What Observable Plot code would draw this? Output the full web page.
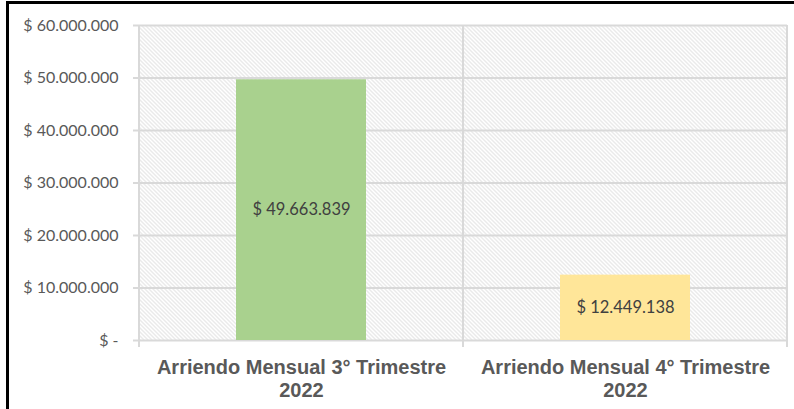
<!DOCTYPE html>
<html><head><meta charset="utf-8">
<script src="https://cdn.jsdelivr.net/npm/d3@7"></script>
<script src="https://cdn.jsdelivr.net/npm/@observablehq/plot@0.6"></script>
<style>
body{margin:0;background:#fff;}
#wrap{position:relative;width:794px;height:409px;overflow:hidden;}
#wrap svg{position:absolute;left:0;top:0;}
#border{position:absolute;left:6px;top:1px;width:788px;height:408px;border-left:3px solid #000;border-top:3px solid #000;box-sizing:border-box;pointer-events:none;}
</style></head><body>
<div id="wrap"></div>
<script>
const categories = ["Arriendo Mensual 3° Trimestre\n2022", "Arriendo Mensual 4° Trimestre\n2022"];
const values = [49663839, 12449138];
const barColors = ["#a9d18e", "#ffe699"];
const valueLabels = ["$ 49.663.839", "$ 12.449.138"];
const yTicks = [0, 10000000, 20000000, 30000000, 40000000, 50000000, 60000000];
const yTickLabels = ["$ -", "$ 10.000.000", "$ 20.000.000", "$ 30.000.000", "$ 40.000.000", "$ 50.000.000", "$ 60.000.000"];

const data = categories.map((c, i) => ({category: c, value: values[i], color: barColors[i], label: valueLabels[i]}));

function dividers(index, scales, channels, dimensions) {
  const x = scales.x;
  const half = x.step() / 2;
  const {marginTop, marginBottom, height} = dimensions;
  const bottom = height - marginBottom;
  const g = d3.create("svg:g");
  const bounds = categories.map(c => x(c) + x.bandwidth() / 2 - half);
  bounds.push(x(categories[categories.length - 1]) + x.bandwidth() / 2 + half);
  bounds.forEach(b => {
    g.append("line").attr("x1", b).attr("x2", b).attr("y1", marginTop).attr("y2", bottom + 7)
      .attr("stroke", "#d9d9d9").attr("stroke-width", 2);
  });
  return g.node();
}

const chart = Plot.plot({
  width: 794, height: 409,
  marginLeft: 138, marginRight: 7, marginTop: 25, marginBottom: 69,
  style: {fontFamily: "Lato, sans-serif", background: "transparent", overflow: "visible"},
  color: {type: "identity"},
  x: {domain: categories, paddingInner: 0.6, paddingOuter: 0.3, axis: null},
  y: {domain: [0, 60000000], axis: null},
  marks: [
    Plot.frame({fill: "url(#hatch)", stroke: null}),
    Plot.gridY(yTicks, {stroke: "#d9d9d9", strokeOpacity: 1, strokeWidth: 2}),
    dividers,
    Plot.barY(data, {x: "category", y: "value", fill: "color"}),
    Plot.text(data, {x: "category", y: d => d.value / 2, text: "label", fill: "#404040", fontSize: 16.5, fontFamily: "Lato, sans-serif"}),
    Plot.axisY({ticks: yTicks, tickFormat: d => yTickLabels[yTicks.indexOf(d)], tickSize: 5, tickPadding: 15, label: null,
      stroke: "#d9d9d9", strokeWidth: 2, fill: "#595959", fontSize: 16, fontFamily: "Lato, sans-serif"}),
    Plot.text(data, {x: "category", frameAnchor: "bottom", lineAnchor: "top", dy: 18, lineHeight: 1.12,
      text: "category", fill: "#595959", fontSize: 20, fontWeight: "bold", fontFamily: "Liberation Sans, Arial, sans-serif"})
  ]
});

const defs = d3.select(chart).insert("defs", ":first-child");
const pat = defs.append("pattern").attr("id", "hatch").attr("patternUnits", "userSpaceOnUse").attr("width", 4).attr("height", 4);
pat.append("rect").attr("width", 4).attr("height", 4).attr("fill", "#fff");
pat.append("path").attr("d", "M-1,-1L5,5M-1,3L1,5M3,-1L5,1").attr("stroke", "#d4d4d4").attr("stroke-width", 1);

const wrap = document.getElementById("wrap");
wrap.appendChild(chart);
const border = document.createElement("div");
border.id = "border";
wrap.appendChild(border);
</script>
</body></html>
